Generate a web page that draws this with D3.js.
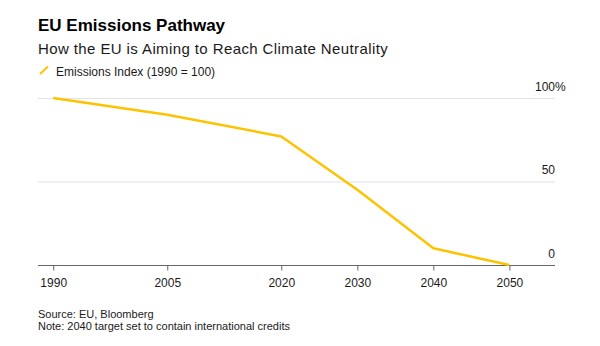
<!DOCTYPE html>
<html>
<head>
<meta charset="utf-8">
<script src="https://cdn.jsdelivr.net/npm/d3@7"></script>
<style>
  html, body { margin: 0; padding: 0; background: #fff; }
  svg { display: block; font-family: "Liberation Sans", Arial, Helvetica, sans-serif; }
</style>
</head>
<body>
<svg id="chart" width="600" height="346"></svg>
<script>
const years = [1990, 2005, 2020, 2030, 2040, 2050];
const emissionsIndex = [100, 90, 77, 45, 10, 0];
const yTicks = [0, 50, 100];
const xTickLabels = ["1990", "2005", "2020", "2030", "2040", "2050"];
const title = "EU Emissions Pathway";
const subtitle = "How the EU is Aiming to Reach Climate Neutrality";
const legendLabel = "Emissions Index (1990 = 100)";
const sourceLines = ["Source: EU, Bloomberg", "Note: 2040 target set to contain international credits"];

const lineColor = "#FDC300";
const textColor = "#1a1a1a";

const svg = d3.select("#chart");
const plotLeft = 38, plotRight = 555, plotTop = 98, plotBottom = 265;

const x = d3.scaleLinear().domain([1988, 2056]).range([plotLeft, plotRight]);
const y = d3.scaleLinear().domain([0, 100]).range([plotBottom, plotTop]);

// Titles
svg.append("text").attr("x", 38).attr("y", 31)
  .attr("font-size", 17).attr("font-weight", "bold").attr("fill", "#000").text(title);
svg.append("text").attr("x", 38).attr("y", 54)
  .attr("font-size", 15).attr("letter-spacing", 0.4).attr("fill", textColor).text(subtitle);

// Legend
svg.append("line").attr("x1", 40).attr("y1", 74).attr("x2", 48).attr("y2", 66.5)
  .attr("stroke", lineColor).attr("stroke-width", 2);
svg.append("text").attr("x", 56).attr("y", 75.5)
  .attr("font-size", 12).attr("fill", textColor).text(legendLabel);

// Gridlines
svg.append("g").selectAll("line").data(yTicks.filter(d => d !== 0)).join("line")
  .attr("x1", plotLeft).attr("x2", plotRight)
  .attr("y1", d => y(d) + 0.5).attr("y2", d => y(d) + 0.5)
  .attr("stroke", "#e3e3e3").attr("stroke-width", 1);

// Y labels (right side, % hanging)
const yl = svg.append("g");
yTicks.forEach(t => {
  yl.append("text").attr("x", plotRight).attr("y", y(t) - 7.5)
    .attr("font-size", 12).attr("fill", textColor).attr("text-anchor", "end")
    .text(String(t));
  if (t === 100) {
    yl.append("text").attr("x", plotRight).attr("y", y(t) - 7.5)
      .attr("font-size", 12).attr("fill", textColor).text("%");
  }
});

// X axis
const xAxis = d3.axisBottom(x).tickValues(years).tickSize(5).tickFormat((d, i) => xTickLabels[i]);
const gx = svg.append("g").attr("transform", `translate(0,${plotBottom + 0.5})`).call(xAxis);
gx.select(".domain").attr("stroke", "#666").attr("d", `M${plotLeft},0H${plotRight}`);
gx.selectAll(".tick line").attr("stroke", "#666");
gx.selectAll(".tick text").attr("font-size", 12).attr("fill", textColor)
  .attr("font-family", "Liberation Sans, Arial, sans-serif").attr("dy", "0").attr("y", 21.5);

// Line
const line = d3.line().x((d, i) => x(years[i])).y(d => y(d));
svg.append("path").datum(emissionsIndex)
  .attr("d", line).attr("fill", "none").attr("stroke", lineColor)
  .attr("stroke-width", 2.5).attr("stroke-linejoin", "round");

// Footer
svg.append("g").selectAll("text").data(sourceLines).join("text")
  .attr("x", 38).attr("y", (d, i) => 318 + i * 12)
  .attr("font-size", 11).attr("fill", textColor).text(d => d);
</script>
</body>
</html>
